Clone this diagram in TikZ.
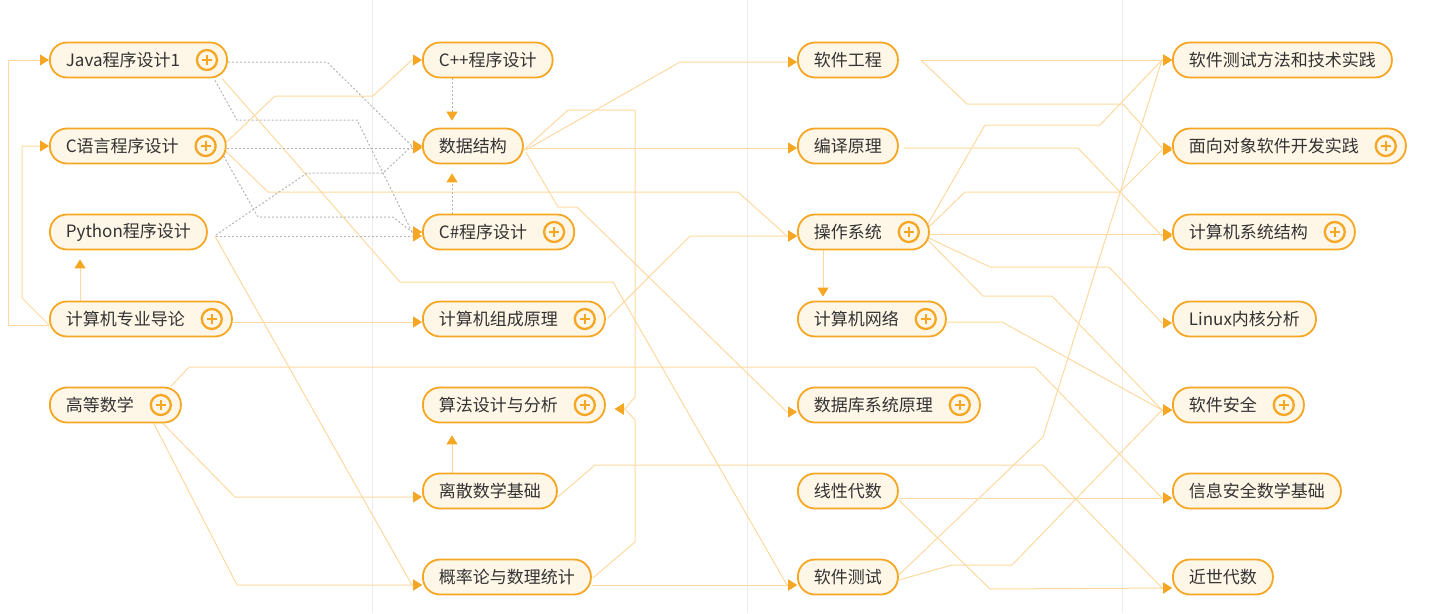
\documentclass[tikz,border=0pt]{standalone}
\usepackage{fontspec}
\setmainfont{Noto Sans CJK SC}
\usetikzlibrary{arrows.meta,calc}
\definecolor{corange}{HTML}{F5A623}
\definecolor{ccream}{HTML}{FEF6E7}
\definecolor{cline}{HTML}{FDD9A0}
\definecolor{cdash}{HTML}{B4B4B4}
\definecolor{ctext}{HTML}{333333}
\definecolor{cgrid}{HTML}{EDEDED}
\pgfdeclarelayer{bg}
\pgfsetlayers{bg,main}
\newcommand\pl{\kern31pt}
\newcommand\plusat[1]{\node[plusicon] (#1p) at ($(#1.east)+(-21,0)$) {};}
\begin{document}
\begin{tikzpicture}[x=1pt,y=-1pt,
  course/.style={draw=corange,line width=1.8pt,fill=ccream,rounded corners=17pt,minimum height=35pt,inner xsep=16pt,inner ysep=0pt,anchor=west,text=ctext,font=\fontsize{17}{20}\selectfont},
  plusicon/.style={circle,draw=corange,line width=2.3pt,fill=ccream,minimum size=20pt,inner sep=0pt,
    path picture={\draw[corange,line width=2pt] ([xshift=-5pt]path picture bounding box.center) -- ([xshift=5pt]path picture bounding box.center) ([yshift=-5pt]path picture bounding box.center) -- ([yshift=5pt]path picture bounding box.center);}},
  conn/.style={draw=cline,line width=1pt,-{Triangle[length=9pt,width=11pt,color=corange]}},
  dconn/.style={conn,draw=cdash,dash pattern=on 2pt off 2pt},
  gridl/.style={draw=cgrid,line width=1pt}]
\useasboundingbox (0,0) rectangle (1432,613);
% column 1
\node[course] (java) at (49,60) {Java程序设计1\pl};
\node[course] (c) at (49,146) {C语言程序设计\pl};
\node[course] (py) at (49,232) {Python程序设计};
\node[course] (intro) at (49,319) {计算机专业导论\pl};
\node[course] (math) at (49,405) {高等数学\pl};
% column 2
\node[course] (cpp) at (422,60) {C++程序设计};
\node[course] (ds) at (422,146) {数据结构};
\node[course] (cs) at (422,232) {C\#程序设计\pl};
\node[course] (co) at (422,319) {计算机组成原理\pl};
\node[course] (algo) at (422,405) {算法设计与分析\pl};
\node[course] (disc) at (422,491) {离散数学基础};
\node[course] (prob) at (422,577) {概率论与数理统计};
% column 3
\node[course] (se) at (797,60) {软件工程};
\node[course] (comp) at (797,146) {编译原理};
\node[course] (os) at (797,232) {操作系统\pl};
\node[course] (net) at (797,319) {计算机网络\pl};
\node[course] (db) at (797,405) {数据库系统原理\pl};
\node[course] (la) at (797,491) {线性代数};
\node[course] (st) at (797,577) {软件测试};
% column 4
\node[course] (stp) at (1172,60) {软件测试方法和技术实践};
\node[course] (oop) at (1172,146) {面向对象软件开发实践\pl};
\node[course] (arch) at (1172,232) {计算机系统结构\pl};
\node[course] (linux) at (1172,319) {Linux内核分析};
\node[course] (sec) at (1172,405) {软件安全\pl};
\node[course] (ism) at (1172,491) {信息安全数学基础};
\node[course] (alg) at (1172,577) {近世代数};
% plus icons
\plusat{java}\plusat{c}\plusat{intro}\plusat{math}
\plusat{cs}\plusat{co}\plusat{algo}
\plusat{os}\plusat{net}\plusat{db}
\plusat{oop}\plusat{arch}\plusat{sec}
\begin{pgfonlayer}{bg}
\draw[gridl] (372,0) -- (372,613);
\draw[gridl] (747,0) -- (747,613);
\draw[gridl] (1122,0) -- (1122,613);
% column 1 internal
\draw[conn] ($(intro.west)+(0,6)$) -- (8,325) -- (8,60) -- (java.west);
\draw[conn] ($(intro.west)+(0,6)$) -- (22,298) -- (22,146) -- (c.west);
\draw[conn] ($(intro.north west)+(31,0)$) -- ($(py.south west)+(31,9)$);
\draw[conn] ($(intro.east)+(0,3)$) -- ($(co.west)+(0,3)$);
% java
\draw[dconn] ($(java.east)+(0,2)$) -- (327,62) -- ($(ds.west)+(-10,0)$) -- (ds.west);
\draw[dconn] ($(java.south east)+(-13,2)$) -- (237,120) -- (357,120) -- ($(cs.west)+(-10,0)$) -- (cs.west);
\draw[conn] ($(java.south east)+(-6,0)$) -- (400,282) -- (613,282) -- ($(st.west)+(-10,8)$) -- ($(st.west)+(0,8)$);
% c
\draw[conn] ($(c.east)+(0,-4)$) -- (275,96) -- (373,96) -- ($(cpp.west)+(-10,0)$) -- (cpp.west);
\draw[dconn] ($(c.east)+(0,2)$) -- ($(ds.west)+(0,2)$);
\draw[conn] ($(c.east)+(-1,5)$) -- (268,192) -- (738,192) -- ($(os.west)+(-10,4)$) -- ($(os.west)+(0,4)$);
\draw[dconn] ($(c.east)+(-3,10)$) -- (258,217) -- (393,217) -- ($(cs.west)+(-10,0)$) -- (cs.west);
% python
\draw[dconn] ($(py.east)+(8,3)$) -- (307,173) -- (383,173) -- ($(ds.west)+(-10,0)$) -- (ds.west);
\draw[dconn] ($(py.east)+(8,4)$) -- ($(cs.west)+(0,4)$);
\draw[conn] ($(py.east)+(7,4)$) -- ($(prob.west)+(-10,8)$) -- ($(prob.west)+(0,8)$);
% math
\draw[conn] ($(math.south east)+(-19,0)$) -- (235,497) -- ($(disc.west)+(0,6)$);
\draw[conn] ($(math.south east)+(-28,0)$) -- (237,585) -- ($(prob.west)+(0,8)$);
\draw[conn] ($(math.north east)+(-11,0)$) -- (189,367) -- (1035,367) -- ($(ism.west)+(-10,7)$) -- ($(ism.west)+(0,7)$);
% column 2 internal
\draw[dconn] ($(cpp.south west)+(30,0)$) -- ($(ds.north west)+(30,-7)$);
\draw[dconn] ($(cs.north west)+(30,0)$) -- ($(ds.south west)+(30,9)$);
\draw[conn] ($(disc.north west)+(30,0)$) -- ($(algo.south west)+(30,12)$);
\draw[conn] ($(prob.east)+(1,1)$) -- (635,542) -- (635,420) -- ($(algo.east)+(19,4)$) -- ($(algo.east)+(9,4)$);
\draw[conn] ($(ds.east)+(0,4)$) -- (568,110) -- (635,110) -- (635,397) -- ($(algo.east)+(19,4)$) -- ($(algo.east)+(9,4)$);
% column 2 to 3/4
\draw[conn] ($(prob.east)+(0,8)$) -- ($(st.west)+(0,8)$);
\draw[conn] ($(disc.east)+(0,6)$) -- (595,465) -- (1043,465) -- ($(alg.west)+(-10,11)$) -- ($(alg.west)+(0,11)$);
\draw[conn] ($(ds.east)+(2,4)$) -- (680,62) -- ($(se.west)+(0,2)$);
\draw[conn] ($(ds.east)+(0,2)$) -- ($(comp.west)+(0,2)$);
\draw[conn] ($(ds.east)+(2,6)$) -- (558,207) -- (577,207) -- ($(db.west)+(-10,7)$) -- ($(db.west)+(0,7)$);
\draw[conn] ($(co.east)+(2,-1)$) -- (690,236) -- ($(os.west)+(0,4)$);
% column 3
\draw[conn] ($(se.east)+(22,0)$) -- (stp.west);
\draw[conn] ($(se.east)+(22,0)$) -- (967,104) -- (1123,104) -- ($(oop.west)+(-10,2)$) -- ($(oop.west)+(0,2)$);
\draw[conn] ($(comp.east)+(5,2)$) -- (1078,148) -- ($(arch.west)+(-10,4)$) -- ($(arch.west)+(0,4)$);
\draw[conn] ($(os.east)+(-2,-8)$) -- (985,125) -- (1100,125) -- ($(stp.west)+(-10,0)$) -- (stp.west);
\draw[conn] ($(os.east)+(-1,-5)$) -- (965,192) -- (1120,192) -- ($(oop.west)+(-10,4)$) -- ($(oop.west)+(0,4)$);
\draw[conn] ($(os.east)+(0,2)$) -- ($(arch.west)+(0,2)$);
\draw[conn] ($(os.east)+(-1,6)$) -- (990,267) -- (1109,267) -- ($(linux.west)+(-10,4)$) -- ($(linux.west)+(0,4)$);
\draw[conn] ($(os.east)+(-2,8)$) -- (983,296) -- (1052,296) -- ($(sec.west)+(-10,5)$) -- ($(sec.west)+(0,5)$);
\draw[conn] ($(os.south west)+(26,0)$) -- ($(net.north west)+(26,-4)$);
\draw[conn] ($(net.east)+(0,3)$) -- (1002,322) -- ($(sec.west)+(-10,5)$) -- ($(sec.west)+(0,5)$);
\draw[conn] ($(st.east)+(0,-2)$) -- (1043,437) -- ($(stp.west)+(-10,0)$) -- (stp.west);
\draw[conn] ($(st.east)+(0,3)$) -- (952,565) -- (1012,565) -- ($(sec.west)+(-10,5)$) -- ($(sec.west)+(0,5)$);
\draw[conn] ($(la.east)+(0,7)$) -- ($(ism.west)+(0,7)$);
\draw[conn] ($(la.east)+(0,9)$) -- (990,589) -- ($(alg.west)+(0,11)$);
\end{pgfonlayer}
\end{tikzpicture}
\end{document}
